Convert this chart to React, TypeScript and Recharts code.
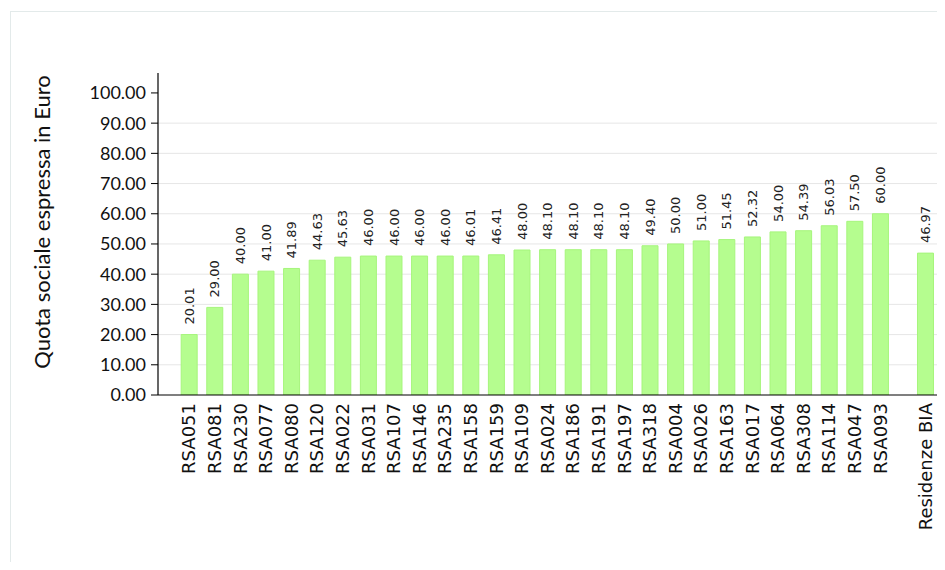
import React from "react";
import {
  BarChart,
  Bar,
  XAxis,
  YAxis,
  CartesianGrid,
  LabelList,
  Label,
} from "recharts";

const structures = [
  "RSA051", "RSA081", "RSA230", "RSA077", "RSA080", "RSA120", "RSA022",
  "RSA031", "RSA107", "RSA146", "RSA235", "RSA158", "RSA159", "RSA109",
  "RSA024", "RSA186", "RSA191", "RSA197", "RSA318", "RSA004", "RSA026",
  "RSA163", "RSA017", "RSA064", "RSA308", "RSA114", "RSA047", "RSA093",
];

const quotas = [
  20.01, 29.0, 40.0, 41.0, 41.89, 44.63, 45.63, 46.0, 46.0, 46.0, 46.0,
  46.01, 46.41, 48.0, 48.1, 48.1, 48.1, 48.1, 49.4, 50.0, 51.0, 51.45,
  52.32, 54.0, 54.39, 56.03, 57.5, 60.0,
];

const averageLabel = "Residenze BIA";
const averageQuota = 46.97;

const yTicks = [0, 10, 20, 30, 40, 50, 60, 70, 80, 90, 100];
const gridValues = [10, 20, 30, 40, 50, 60, 70, 80, 90];

// the average bar sits a little apart from the single structures
const AVERAGE_GAP = 1.76;

const data = [
  ...structures.map((name, i) => ({ name, pos: i, value: quotas[i] })),
  {
    name: averageLabel,
    pos: structures.length - 1 + AVERAGE_GAP,
    value: averageQuota,
  },
];

const labelByPos: Record<string, string> = {};
for (const d of data) labelByPos[String(d.pos)] = d.name;

const XTick = (props: any) => {
  const { x, y, payload } = props;
  return (
    <text
      x={x}
      y={y}
      dy="0.36em"
      transform={`rotate(-90, ${x}, ${y})`}
      textAnchor="end"
      fontFamily="DejaVu Sans"
      fontSize={18}
      fill="#111"
    >
      {labelByPos[String(payload.value)]}
    </text>
  );
};

const ValueLabel = (props: any) => {
  const { x, y, width, value } = props;
  const cx = x + width / 2;
  const cy = y - 10;
  return (
    <text
      x={cx}
      y={cy}
      dy="0.36em"
      transform={`rotate(-90, ${cx}, ${cy})`}
      textAnchor="start"
      fontFamily="DejaVu Sans"
      fontSize={13}
      fill="#222"
    >
      {Number(value).toFixed(2)}
    </text>
  );
};

const AxisTitle = (props: any) => {
  const { viewBox } = props;
  const cx = 42;
  const cy = viewBox.y + viewBox.height / 2 - 12;
  return (
    <text
      x={cx}
      y={cy}
      dy="0.36em"
      transform={`rotate(-90, ${cx}, ${cy})`}
      textAnchor="middle"
      fontFamily="Lato"
      fontSize={22}
      fill="#111"
    >
      Quota sociale espressa in Euro
    </text>
  );
};

export default function App() {
  return (
    <div
      style={{
        position: "relative",
        width: 945,
        height: 570,
        margin: -8,
        overflow: "hidden",
        background: "#fff",
      }}
    >
      <div
        style={{
          position: "absolute",
          left: 10,
          top: 11,
          width: 1000,
          height: 600,
          border: "1px solid #e3eaea",
        }}
      />
      <div style={{ position: "absolute", left: 0, top: 0 }}>
        <BarChart
          width={945}
          height={570}
          data={data}
          margin={{ top: 73, right: 0, bottom: 0, left: 0 }}
        >
          <CartesianGrid
            vertical={false}
            horizontalValues={gridValues}
            stroke="#e6e6e6"
          />
          <XAxis
            type="number"
            dataKey="pos"
            domain={[-1.21, 29.53]}
            allowDataOverflow
            ticks={data.map((d) => d.pos)}
            interval={0}
            tick={<XTick />}
            tickLine={false}
            axisLine={{ stroke: "#000", strokeWidth: 1.2 }}
            height={175}
          />
          <YAxis
            type="number"
            domain={[0, 106.6]}
            allowDataOverflow
            ticks={yTicks}
            interval={0}
            width={158}
            tickSize={7}
            tickMargin={5}
            tickFormatter={(v: number) => v.toFixed(2)}
            tick={{ fontFamily: "Lato", fontSize: 18, fill: "#111" }}
            tickLine={{ stroke: "#000" }}
            axisLine={{ stroke: "#000", strokeWidth: 1.2 }}
          >
            <Label content={<AxisTitle />} />
          </YAxis>
          <Bar
            dataKey="value"
            barSize={16}
            fill="#b5fd8f"
            stroke="#a6f57c"
            strokeWidth={1}
            isAnimationActive={false}
          >
            <LabelList dataKey="value" content={<ValueLabel />} />
          </Bar>
        </BarChart>
      </div>
    </div>
  );
}
